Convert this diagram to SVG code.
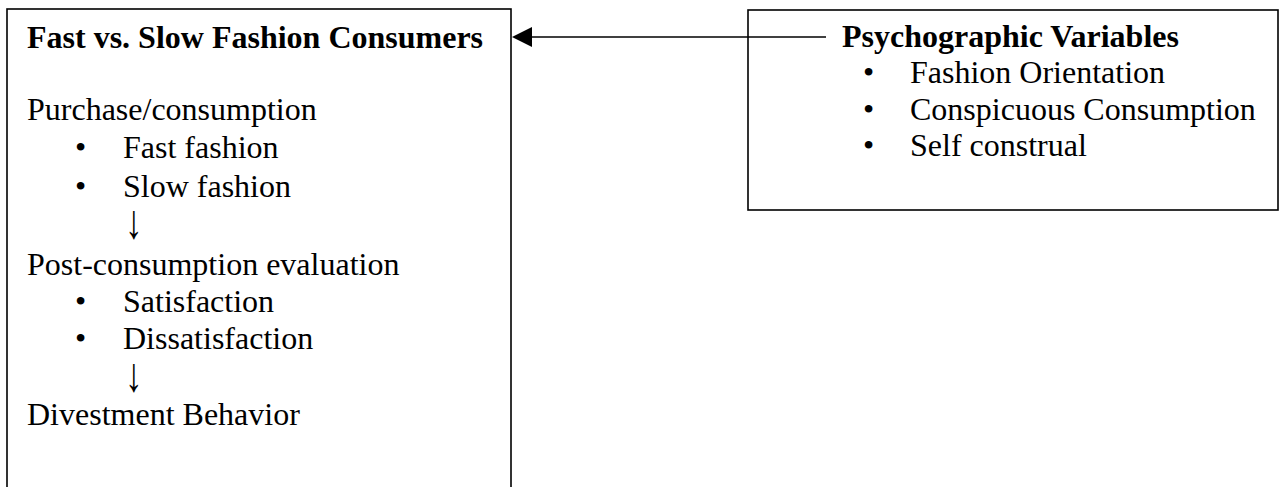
<svg xmlns="http://www.w3.org/2000/svg" width="1282" height="487" viewBox="0 0 1282 487">
<style>
.box{fill:#fff;stroke:#000;stroke-width:1.6}
.t{font-family:"Liberation Serif","Times New Roman",serif;font-size:32px;fill:#000}
.b{font-weight:bold}
.arr{font-family:"Liberation Serif","Times New Roman",serif;font-size:32px;fill:#000}
.conn{stroke:#000;stroke-width:1.6;fill:none}
</style>
<defs>
<marker id="ah" viewBox="0 0 20 20" refX="0" refY="10" markerWidth="20" markerHeight="20" markerUnits="userSpaceOnUse" orient="auto-start-reverse">
<path d="M0,0 L20,10 L0,20 Z" fill="#000"/>
</marker>
</defs>
<g id="node-consumers">
<rect class="box" x="7" y="9" width="504" height="490"/>
<text class="t b" x="27" y="48">Fast vs. Slow Fashion Consumers</text>
<text class="t" x="27" y="120">Purchase/consumption</text>
<text class="t" x="75" y="158">•</text>
<text class="t" x="123" y="158">Fast fashion</text>
<text class="t" x="75" y="197">•</text>
<text class="t" x="123" y="197">Slow fashion</text>
<text class="arr" transform="translate(125,238) scale(1.1,1.5)" x="0" y="0">↓</text>
<text class="t" x="27" y="275">Post-consumption evaluation</text>
<text class="t" x="75" y="312">•</text>
<text class="t" x="123" y="312">Satisfaction</text>
<text class="t" x="75" y="349">•</text>
<text class="t" x="123" y="349">Dissatisfaction</text>
<text class="arr" transform="translate(125,391) scale(1.1,1.5)" x="0" y="0">↓</text>
<text class="t" x="27" y="425">Divestment Behavior</text>
</g>
<g id="node-psychographic">
<rect class="box" x="748" y="10" width="530" height="200"/>
<text class="t b" x="842" y="47">Psychographic Variables</text>
<text class="t" x="863" y="83">•</text>
<text class="t" x="910" y="83">Fashion Orientation</text>
<text class="t" x="863" y="120">•</text>
<text class="t" x="910" y="120">Conspicuous Consumption</text>
<text class="t" x="863" y="156">•</text>
<text class="t" x="910" y="156">Self construal</text>
</g>
<g id="connectors">
<line class="conn" x1="826" y1="37" x2="532" y2="37" marker-end="url(#ah)"/>
</g>
</svg>
